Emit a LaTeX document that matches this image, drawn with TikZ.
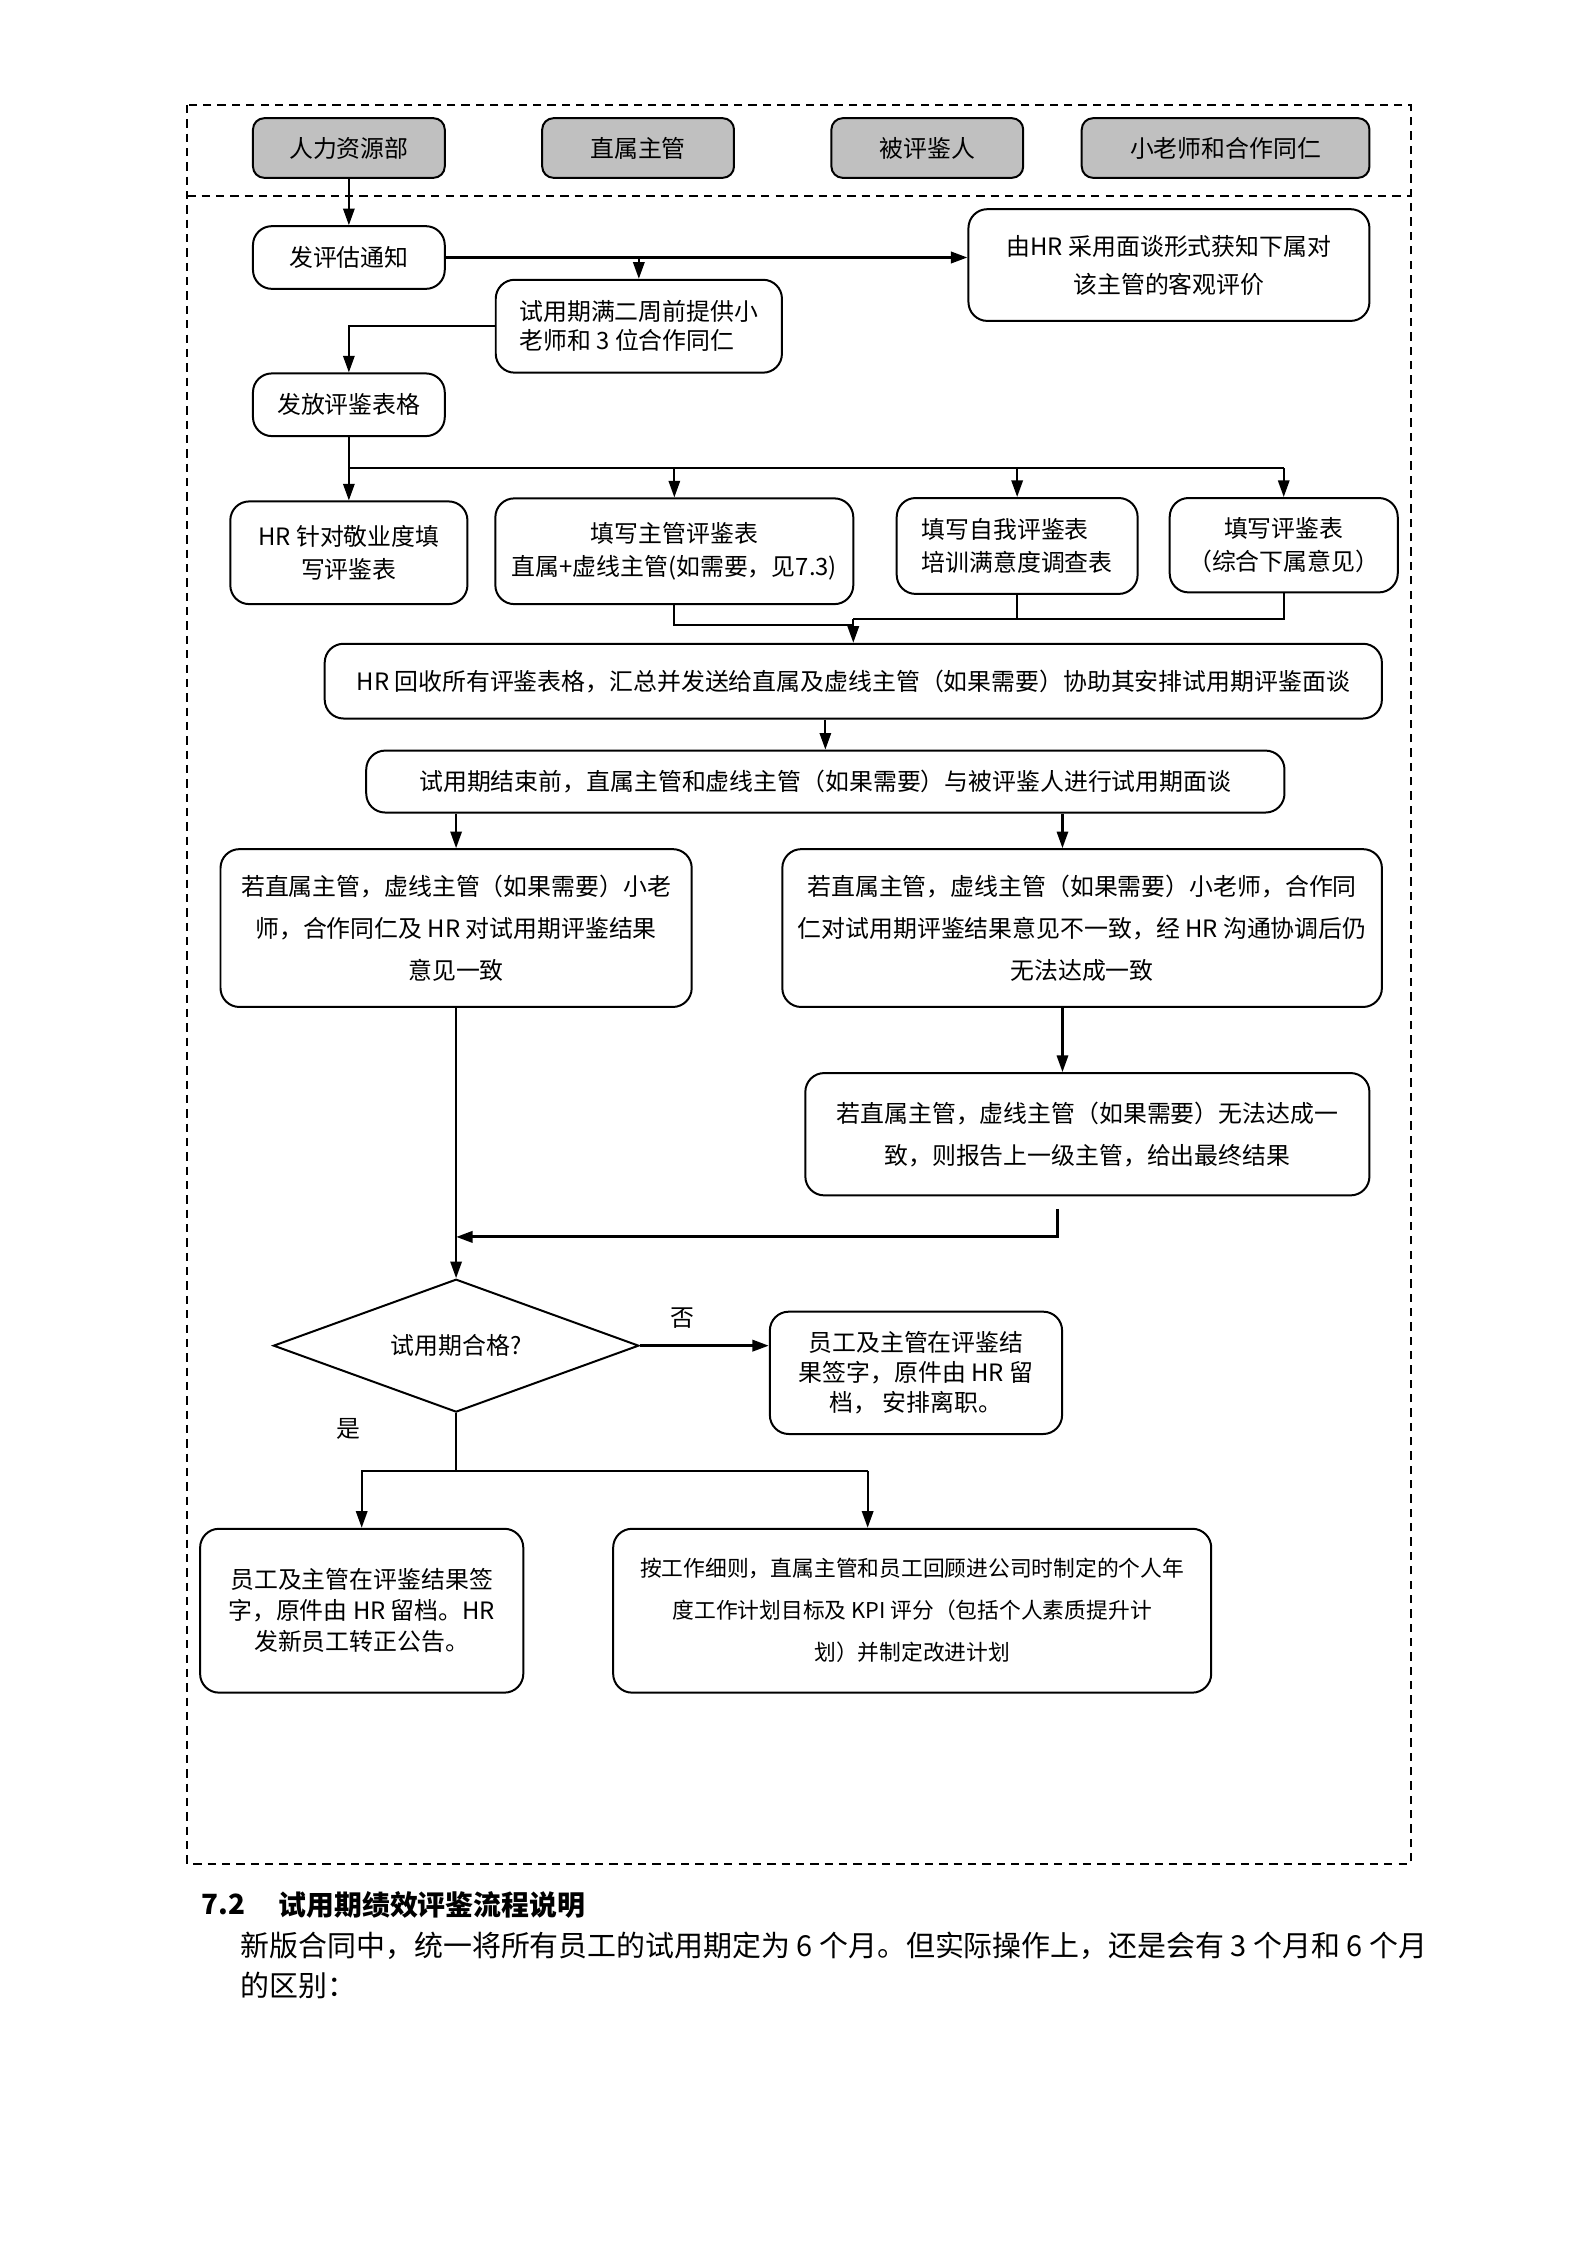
\documentclass[tikz,border=0pt]{standalone}
\usepackage{fontspec}
\setmainfont{Noto Sans CJK SC}
\usetikzlibrary{positioning, shapes.geometric, arrows.meta}

\definecolor{headgray}{RGB}{192,192,192}

\tikzset{
  head/.style={draw, rounded corners=1.5mm, fill=headgray, line width=0.75pt,
               minimum width=2.54cm, minimum height=0.79cm, font=\fontsize{9}{11}\selectfont},
  box/.style={draw, rounded corners=2.5mm, line width=0.75pt, align=center,
              inner sep=1pt, font=\fontsize{9}{12}\selectfont},
  lead/.style={font=\fontsize{9}{#1}\selectfont},
  arr/.style={-{Triangle[length=2.2mm, width=1.5mm]}, line width=0.8pt},
  link/.style={line width=0.8pt},
  frame/.style={dash pattern=on 1.1mm off 0.8mm, line width=0.8pt}
}

\begin{document}
\begin{tikzpicture}
\useasboundingbox (0,0) rectangle (21,-29.73);

% Frame
\draw [frame] (2.48,-1.39) rectangle (18.68,-24.68);
\draw [frame] (2.48,-2.60) -- (18.68,-2.60);

% Header
\node (hr)     [head]                       at ( 4.62, -1.96) {人力资源部};
\node (mgr)    [head]                       at ( 8.45, -1.96) {直属主管};
\node (emp)    [head]                       at (12.28, -1.96) {被评鉴人};
\node (mentor) [head, minimum width=3.81cm] at (16.23, -1.96) {小老师和合作同仁};

% Notice and forms
\node (notify)  [box, minimum width=2.54cm, minimum height=0.83cm] at ( 4.62, -3.41) {发评估通知};
\node (talk)    [box, lead=14.3, minimum width=5.31cm, minimum height=1.48cm] at (15.48, -3.51)
                {由HR 采用面谈形式获知下属对\\该主管的客观评价};
\node (twoweek) [box, lead=11, align=left, minimum width=3.79cm, minimum height=1.23cm] at ( 8.46, -4.32)
                {试用期满二周前提供小\\老师和 3 位合作同仁};
\node (forms)   [box, minimum width=2.54cm, minimum height=0.83cm] at ( 4.62, -5.36) {发放评鉴表格};

% Four forms
\node (hrform)   [box, lead=12.4, minimum width=3.14cm, minimum height=1.36cm] at ( 4.62, -7.32)
                 {HR 针对敬业度填\\写评鉴表};
\node (mgrform)  [box, lead=12.4, minimum width=4.74cm, minimum height=1.40cm] at ( 8.93, -7.30)
                 {填写主管评鉴表\\直属+虚线主管(如需要，见7.3)};
\node (selfform) [box, lead=12.4, align=left, minimum width=3.19cm, minimum height=1.27cm] at (13.47, -7.23)
                 {填写自我评鉴表\\培训满意度调查表};
\node (subform)  [box, lead=12.4, minimum width=3.02cm, minimum height=1.25cm] at (17.00, -7.22)
                 {填写评鉴表\\（综合下属意见）};

% Collect and review
\node (collect) [box, minimum width=14.00cm, minimum height=0.99cm] at (11.30, -9.02)
                {HR 回收所有评鉴表格，汇总并发送给直属及虚线主管（如果需要）协助其安排试用期评鉴面谈};
\node (review)  [box, minimum width=12.16cm, minimum height=0.82cm] at (10.93, -10.35)
                {试用期结束前，直属主管和虚线主管（如果需要）与被评鉴人进行试用期面谈};

% Agreement
\node (agree)    [box, lead=15.8, minimum width=6.24cm, minimum height=2.09cm] at ( 6.04, -12.29)
                 {若直属主管，虚线主管（如果需要）小老\\师，合作同仁及 HR 对试用期评鉴结果\\意见一致};
\node (disagree) [box, lead=15.8, minimum width=7.94cm, minimum height=2.09cm] at (14.33, -12.29)
                 {若直属主管，虚线主管（如果需要）小老师，合作同\\仁对试用期评鉴结果意见不一致，经 HR 沟通协调后仍\\无法达成一致};
\node (escalate) [box, lead=15.8, minimum width=7.47cm, minimum height=1.62cm] at (14.40, -15.02)
                 {若直属主管，虚线主管（如果需要）无法达成一\\致，则报告上一级主管，给出最终结果};

% Decision
\node (pass) [draw, diamond, aspect=2.77, line width=0.75pt, inner sep=0pt, font=\fontsize{9}{11}\selectfont,
              minimum width=4.84cm, minimum height=1.76cm] at ( 6.04, -17.82) {试用期合格?};
\node (no)   [font=\fontsize{9}{11}\selectfont] at ( 9.04, -17.45) {否};
\node (yes)  [font=\fontsize{9}{11}\selectfont] at ( 4.62, -18.92) {是};
\node (quit) [box, lead=11.3, minimum width=3.87cm, minimum height=1.62cm] at (12.13, -18.18)
             {员工及主管在评鉴结\\果签字，原件由 HR 留\\档， 安排离职。};

% Results
\node (confirm) [box, lead=11.6, minimum width=4.28cm, minimum height=2.17cm] at ( 4.79, -21.33)
                {员工及主管在评鉴结果签\\字，原件由 HR 留档。HR\\发新员工转正公告。};
\node (plan)    [box, font=\fontsize{8.2}{15.8}\selectfont, minimum width=7.92cm, minimum height=2.17cm] at (12.08, -21.33)
                {按工作细则，直属主管和员工回顾进公司时制定的个人年\\度工作计划目标及 KPI 评分（包括个人素质提升计\\划）并制定改进计划};

% Text below
\node (hnum)   [anchor=west, inner sep=0pt, font=\bfseries\fontsize{10.5}{12}\selectfont] at ( 2.66, -25.22) {7.2};
\node (htitle) [anchor=west, inner sep=0pt, right=0.43cm of hnum, font=\bfseries\fontsize{10.5}{12}\selectfont] {试用期绩效评鉴流程说明};
\node (body)   [anchor=north west, inner sep=0pt, align=left, font=\fontsize{10.9}{15}\selectfont] at ( 3.18, -25.58)
               {新版合同中，统一将所有员工的试用期定为 6 个月。但实际操作上，还是会有 3 个月和 6 个月\\的区别：};

% Helper points
\coordinate (split)  at ( 4.62, -6.20);
\coordinate (merge)  at (11.30, -8.20);
\coordinate (mjoin)  at (11.30, -8.28);
\coordinate (rcol)   at (14.07, -10.35);
\coordinate (back)   at (14.01, -16.01);
\coordinate (bjoin)  at ( 6.04, -16.38);
\coordinate (ysplit) at ( 6.04, -19.48);
\coordinate (pcol)   at (11.49, -19.48);

% Connections
\draw [arr] (hr) -- (notify);
\draw [arr, line width=1.1pt] (notify.east) -- (notify.east -| talk.west);
\draw [arr] (notify.east -| twoweek.north) -- (twoweek.north);
\draw [arr] (twoweek.west) -| (forms.north);
\draw [link] (forms.south) -- (split) -- (split -| subform.north);
\draw [arr] (split) -- (hrform.north);
\draw [arr] (split -| mgrform.north) -- (mgrform.north);
\draw [arr] (split -| selfform.north) -- (selfform.north);
\draw [arr] (split -| subform.north) -- (subform.north);
\draw [link] (mgrform.south) |- (mjoin);
\draw [link] (selfform.south) |- (merge);
\draw [link] (subform.south) |- (merge);
\draw [arr] (merge) -- (collect.north);
\draw [arr] (collect.south -| review.north) -- (review.north);
\draw [arr] (review.south -| agree.north) -- (agree.north);
\draw [arr] (review.south -| rcol) -- (disagree.north -| rcol);
\draw [arr] (disagree.south -| rcol) -- (escalate.north -| rcol);
\draw [arr, line width=1.1pt] (back) |- (bjoin);
\draw [arr] (agree.south) -- (pass.north);
\draw [arr, line width=1.1pt] (pass.east) -- (pass.east -| quit.west);
\draw [link] (pass.south) -- (ysplit) -- (pcol);
\draw [arr] (ysplit) -| (confirm.north);
\draw [arr] (pcol) -- (pcol |- plan.north);

\end{tikzpicture}
\end{document}
